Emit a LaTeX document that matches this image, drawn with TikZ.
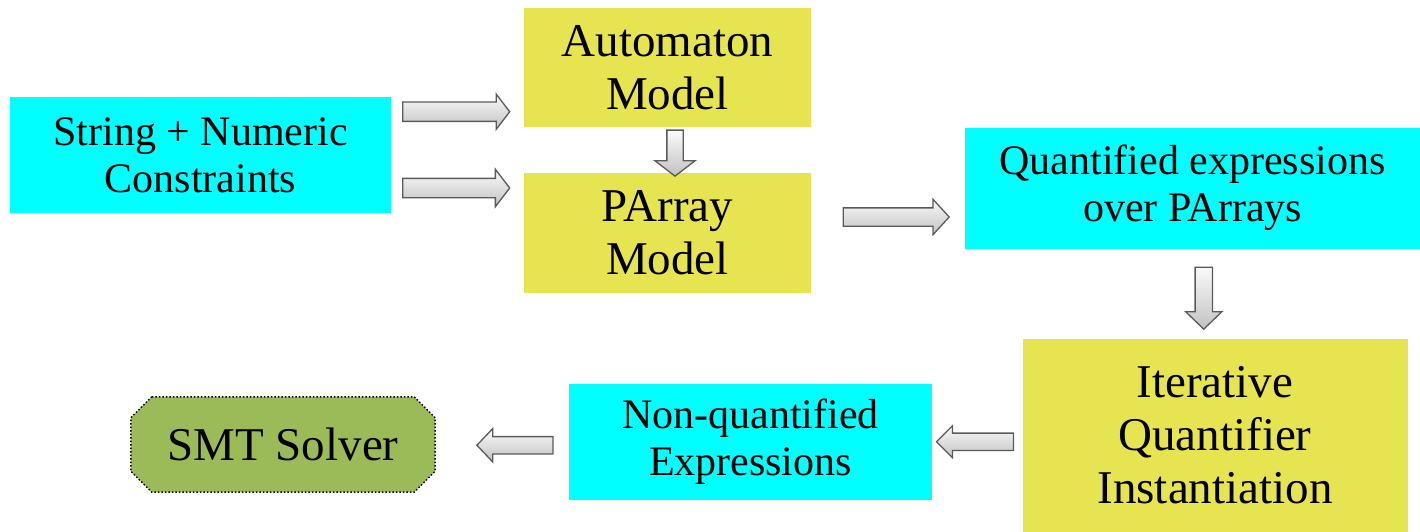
\documentclass[tikz,border=0pt]{standalone}
\usepackage{fontspec}
\setmainfont{Liberation Serif}
\usetikzlibrary{shapes.arrows,calc}
\definecolor{boxcyan}{RGB}{0,255,255}
\definecolor{boxyellow}{RGB}{230,228,80}
\definecolor{boxgreen}{RGB}{155,187,89}
\definecolor{arrowedge}{RGB}{90,90,90}
\tikzset{
  cyanbox/.style={rectangle, fill=boxcyan, inner sep=0pt, align=center,
    font=\fontsize{42}{47}\selectfont},
  yellowbox/.style={rectangle, fill=boxyellow, inner sep=0pt, align=center,
    font=\fontsize{47}{53}\selectfont},
  solverbox/.style={inner sep=0pt, align=center, font=\fontsize{47}{53}\selectfont},
  blockarrow/.style={single arrow, draw=arrowedge, line width=1.3pt,
    top color=gray!4, bottom color=gray!48, minimum width=0pt,
    single arrow tip angle=100, single arrow head indent=0pt},
}
\begin{document}
\begin{tikzpicture}[x=1pt,y=-1pt]
\useasboundingbox (0,0) rectangle (1420,532);

% boxes
\node[cyanbox, minimum width=381pt, minimum height=116pt] (input) at (200.5,155)
  {String + Numeric\\Constraints};
\node[yellowbox, minimum width=287pt, minimum height=119pt] (automaton) at (667.5,67.5)
  {Automaton\\Model};
\node[yellowbox, minimum width=287pt, minimum height=120pt] (parray) at (667.5,233)
  {PArray\\Model};
\node[cyanbox, minimum width=455pt, minimum height=121pt] (quant) at (1192.5,188)
  {Quantified expressions\\over PArrays};
\node[yellowbox, minimum width=385pt, minimum height=194pt] (iter) at (1215,435.5)
  {Iterative\\Quantifier\\Instantiation};
\node[cyanbox, minimum width=363pt, minimum height=116pt] (nonquant) at (750.5,442)
  {Non-quantified\\Expressions};

% solver: octagon with dotted outline
\node[solverbox, minimum width=304pt, minimum height=95pt] (smt) at (283,444.5) {};
\fill[boxgreen] ([xshift=21pt]smt.north west) -- ([xshift=-21pt]smt.north east)
  -- ([yshift=-21pt]smt.north east) -- ([yshift=21pt]smt.south east)
  -- ([xshift=-21pt]smt.south east) -- ([xshift=21pt]smt.south west)
  -- ([yshift=21pt]smt.south west) -- ([yshift=-21pt]smt.north west) -- cycle;
\draw[black, line width=1.5pt, dotted] ([xshift=21pt]smt.north west) -- ([xshift=-21pt]smt.north east)
  -- ([yshift=-21pt]smt.north east) -- ([yshift=21pt]smt.south east)
  -- ([xshift=-21pt]smt.south east) -- ([xshift=21pt]smt.south west)
  -- ([yshift=21pt]smt.south west) -- ([yshift=-21pt]smt.north west) -- cycle;
\node[solverbox] (smtlabel) at (smt) {SMT Solver};

% block arrows between the boxes
\node[blockarrow, minimum height=107pt, inner sep=9pt, single arrow head extend=8pt,
  single arrow tip angle=105]
  (a1) at ($(input.east)!0.5!(automaton.west)+(-5,0.5)$) {};
\node[blockarrow, minimum height=107pt, inner sep=9pt, single arrow head extend=9pt,
  single arrow tip angle=105]
  (a2) at ($(input.east)!0.5!(parray.west)+(-5,-6)$) {};
\node[blockarrow, minimum height=46pt, inner sep=7.5pt, single arrow head extend=12pt,
  single arrow tip angle=105, shape border rotate=270]
  (a3) at ($(automaton.south)!0.5!(parray.north)+(7.5,0)$) {};
\node[blockarrow, minimum height=106pt, inner sep=8.5pt, single arrow head extend=8.5pt,
  single arrow tip angle=95]
  (a4) at ($(parray.east)!0.5!(quant.west)+(4,6.5)$) {};
\node[blockarrow, minimum height=62pt, inner sep=8pt, single arrow head extend=9.5pt,
  single arrow tip angle=92, shape border rotate=270]
  (a5) at ($(quant.south)!0.5!(iter.north)+(0,0.5)$) {};
\node[blockarrow, minimum height=77pt, inner sep=8pt, single arrow head extend=7.5pt,
  single arrow tip angle=90, shape border rotate=180]
  (a6) at ($(nonquant.east)!0.5!(iter.west)+(2,3)$) {};
\node[blockarrow, minimum height=76pt, inner sep=8pt, single arrow head extend=8pt,
  single arrow tip angle=93, shape border rotate=180]
  (a7) at ($(smt.east)!0.5!(nonquant.west)+(17,2)$) {};
\end{tikzpicture}
\end{document}
